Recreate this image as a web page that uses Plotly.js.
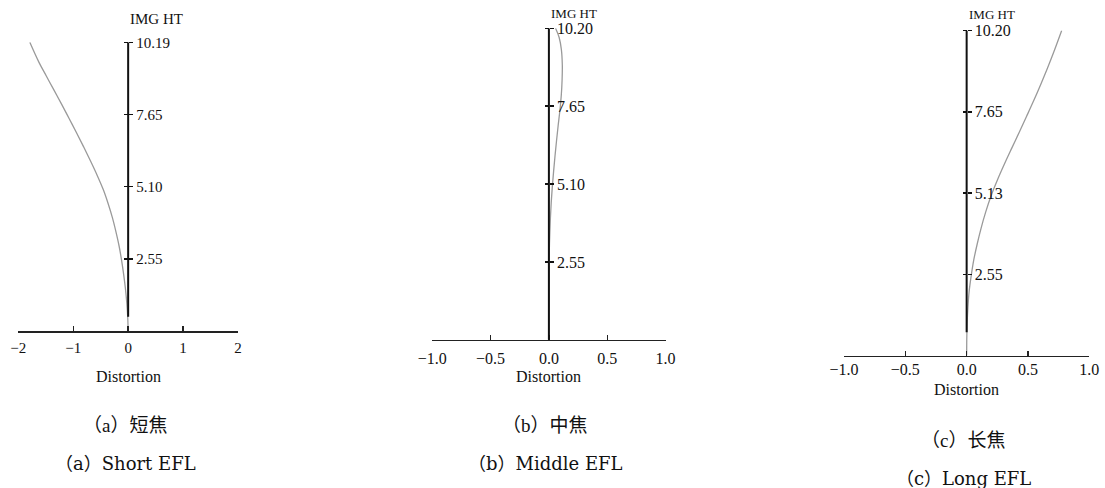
<!DOCTYPE html>
<html>
<head>
<meta charset="utf-8">
<script src="https://cdn.plot.ly/plotly-3.0.1.min.js"></script>
<style>
html,body{margin:0;padding:0;background:#fff;}
#chart{width:1105px;height:488px;}
</style>
</head>
<body>
<div id="chart"></div>
<script>
// ---------------- data ----------------
// (a) Short EFL
const heightA = [0, 0.5, 1.0, 1.5, 2.0, 2.5, 3.0, 3.5, 4.0, 4.5, 5.0, 5.5, 6.0, 6.5, 7.0, 7.5, 8.0, 8.5, 9.0, 9.5, 10.19];
const distA   = [0, -0.008, -0.025, -0.050, -0.082, -0.12, -0.165, -0.222, -0.287, -0.365, -0.455, -0.565, -0.685, -0.81, -0.94, -1.075, -1.21, -1.35, -1.49, -1.628, -1.79];
// (b) Middle EFL
const heightB = [0, 1.0, 2.0, 3.0, 3.5, 4.0, 4.5, 5.0, 5.5, 6.0, 6.5, 7.0, 7.5, 8.0, 8.5, 9.0, 9.5, 9.9, 10.2];
const distB   = [0, 0.0, 0.001, 0.004, 0.008, 0.013, 0.02, 0.029, 0.040, 0.052, 0.065, 0.079, 0.094, 0.106, 0.113, 0.115, 0.107, 0.088, 0.057];
// (c) Long EFL
const heightC = [0, 0.5, 1.0, 1.5, 2.0, 2.5, 3.0, 3.5, 4.0, 4.5, 5.0, 5.5, 6.0, 6.5, 7.0, 7.5, 8.0, 8.5, 9.0, 9.5, 10.2];
const distC   = [0, 0.001, 0.004, 0.010, 0.020, 0.037, 0.058, 0.086, 0.118, 0.155, 0.198, 0.250, 0.307, 0.367, 0.428, 0.488, 0.547, 0.603, 0.657, 0.708, 0.775];

// tick labels
const yTickValsA = [2.55, 5.10, 7.65, 10.19];
const yTickTextA = ["2.55", "5.10", "7.65", "10.19"];
const yTickValsB = [2.55, 5.10, 7.65, 10.20];
const yTickTextB = ["2.55", "5.10", "7.65", "10.20"];
const yTickValsC = [2.55, 5.10, 7.65, 10.20];
const yTickTextC = ["2.55", "5.13", "7.65", "10.20"];
const xTickValsA = [-2, -1, 0, 1, 2];
const xTickTextA = ["\u22122", "\u22121", "0", "1", "2"];
const xTickValsBC = [-1, -0.5, 0, 0.5, 1];
const xTickTextBC = ["\u22121.0", "\u22120.5", "0.0", "0.5", "1.0"];

const yTitle = "IMG HT";
const xTitle = "Distortion";
const captionsCN = ["（a）短焦", "（b）中焦", "（c）长焦"];
const captionsEN = ["（a）Short EFL", "（b）Middle EFL", "（c）Long EFL"];

// ---------------- layout geometry ----------------
const W = 1105, H = 488;
const px = v => v / W;
const py = v => 1 - v / H;
const SERIF = "Liberation Serif, Times New Roman, serif";
const CNFONT = "'Liberation Serif', 'Noto Sans CJK SC', serif";
const ENFONT = "'DejaVu Serif', 'Noto Sans CJK SC', serif";

const panels = [
  {xPix:[18.3, 238.0], yPix:[331, 42.3], xr:[-2, 2], yr:[0, 10.19], lineStart:0.5, standoff:2,
   xv:xTickValsA, xt:xTickTextA, yv:yTickValsA, yt:yTickTextA, x:distA, y:heightA,
   tickFont:15, titleSize:15, titleY:19, distY:376, capY:[425, 463], capX:125},
  {xPix:[432.3, 665.5], yPix:[339.8, 28.3], xr:[-1, 1], yr:[0, 10.2], lineStart:0, standoff:3,
   xv:xTickValsBC, xt:xTickTextBC, yv:yTickValsB, yt:yTickTextB, x:distB, y:heightB,
   tickFont:16, titleSize:13, titleY:14, distY:376, capY:[425, 463], capX:545},
  {xPix:[844, 1089.3], yPix:[355.5, 30.5], xr:[-1, 1], yr:[0, 10.2], lineStart:0.73, standoff:-1,
   xv:xTickValsBC, xt:xTickTextBC, yv:yTickValsC, yt:yTickTextC, x:distC, y:heightC,
   tickFont:16, titleSize:13, titleY:15, distY:389, capY:[440, 478], capX:963}
];

const data = [];
const layout = {
  width: W, height: H,
  margin: {l:0, r:0, t:0, b:0},
  paper_bgcolor: "#fff", plot_bgcolor: "rgba(0,0,0,0)",
  showlegend: false,
  font: {family: SERIF, color: "#111"},
  shapes: [], annotations: []
};

panels.forEach((p, i) => {
  const n = i + 1;
  const xa = n === 1 ? "x" : "x" + n;
  const ya = n === 1 ? "y" : "y" + n;
  const yo = "y" + (n + 3);
  const xKey = n === 1 ? "xaxis" : "xaxis" + n;
  const yKey = n === 1 ? "yaxis" : "yaxis" + n;
  const yoKey = "yaxis" + (n + 3);
  const zeroPos = px(p.xPix[0] + (0 - p.xr[0]) / (p.xr[1] - p.xr[0]) * (p.xPix[1] - p.xPix[0]));

  data.push({
    type: "scatter", mode: "lines", x: p.x, y: p.y, xaxis: xa, yaxis: ya,
    line: {color: "#9a9a9a", width: 1.3, shape: "spline", smoothing: 1},
    hoverinfo: "skip"
  });

  layout[xKey] = {
    domain: [px(p.xPix[0]), px(p.xPix[1])], range: p.xr, anchor: ya,
    showline: true, linecolor: "#222", linewidth: 1.6,
    ticks: "inside", ticklen: 5, tickwidth: 1.4, tickcolor: "#222",
    tickvals: p.xv, ticktext: p.xt, ticklabelstandoff: p.standoff,
    tickfont: {family: SERIF, size: p.tickFont, color: "#111"},
    showgrid: false, zeroline: false, fixedrange: true
  };
  layout[yKey] = {
    domain: [py(p.yPix[0]), py(p.yPix[1])], range: p.yr, anchor: "free", position: zeroPos,
    side: "right", showline: false,
    ticks: "outside", ticklen: 4, tickwidth: 1.5, tickcolor: "#111",
    tickvals: p.yv, ticktext: p.yt,
    tickfont: {family: SERIF, size: p.tickFont, color: "#111"},
    showgrid: false, zeroline: false, fixedrange: true
  };
  layout[yoKey] = {
    overlaying: ya, range: p.yr, anchor: "free", position: zeroPos,
    side: "left", showline: false,
    ticks: "outside", ticklen: 4, tickwidth: 1.5, tickcolor: "#111",
    tickvals: p.yv, showticklabels: false,
    showgrid: false, zeroline: false, fixedrange: true
  };
  data.push({type: "scatter", mode: "lines", x: [], y: [], xaxis: xa, yaxis: yo, hoverinfo: "skip"});

  // vertical axis line through x = 0
  layout.shapes.push({
    type: "line", xref: xa, yref: ya, x0: 0, x1: 0, y0: p.lineStart, y1: p.yr[1],
    line: {color: "#111", width: 2}, layer: "above"
  });

  layout.annotations.push({
    text: yTitle, xref: xa, x: 0, xanchor: "left", yref: "paper", y: py(p.titleY), yanchor: "middle",
    showarrow: false, font: {family: SERIF, size: p.titleSize, color: "#111"}
  });
  layout.annotations.push({
    text: xTitle, xref: xa, x: 0, xanchor: "center", yref: "paper", y: py(p.distY), yanchor: "middle",
    showarrow: false, font: {family: SERIF, size: 16, color: "#111"}
  });
  layout.annotations.push({
    text: captionsCN[i], xref: "paper", x: px(p.capX), xanchor: "center", yref: "paper", y: py(p.capY[0]), yanchor: "middle",
    showarrow: false, font: {family: CNFONT, size: 19, color: "#111"}
  });
  layout.annotations.push({
    text: captionsEN[i], xref: "paper", x: px(p.capX), xanchor: "center", yref: "paper", y: py(p.capY[1]), yanchor: "middle",
    showarrow: false, font: {family: ENFONT, size: 18, color: "#111"}
  });
});

Plotly.newPlot("chart", data, layout, {staticPlot: true, displayModeBar: false});
</script>
</body>
</html>
